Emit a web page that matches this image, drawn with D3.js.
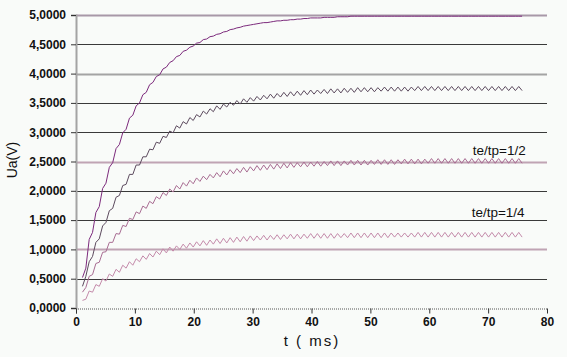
<!DOCTYPE html>
<html><head><meta charset="utf-8">
<script src="https://cdn.jsdelivr.net/npm/d3@7"></script>
<style>html,body{margin:0;padding:0;background:#f9fbf9;}svg{display:block;}</style>
</head><body>
<svg id="c" width="567" height="357"></svg>
<script>
// sample grid (ms): first sample time and step between samples
const tStart = 1.1, tStep = 0.57;
const xTicks = [0,10,20,30,40,50,60,70,80];
const yTicks = [0,0.5,1,1.5,2,2.5,3,3.5,4,4.5,5];
const seriesA = [0.52,0.68,1.17,1.29,1.63,1.73,2.04,2.13,2.40,2.48,
2.72,2.79,2.99,3.05,3.24,3.29,3.45,3.50,3.64,3.68,
3.81,3.85,3.95,3.98,4.08,4.11,4.19,4.22,4.29,4.31,
4.38,4.40,4.45,4.47,4.52,4.53,4.58,4.59,4.63,4.64,
4.67,4.68,4.71,4.72,4.75,4.76,4.78,4.79,4.81,4.82,
4.83,4.84,4.85,4.86,4.87,4.87,4.88,4.89,4.90,4.90,
4.91,4.91,4.92,4.92,4.93,4.93,4.94,4.94,4.95,4.95,
4.95,4.95,4.96,4.96,4.96,4.96,4.97,4.97,4.97,4.97,
4.98,4.98,4.98,4.98,4.98,4.98,4.98,4.98,4.98,4.98,
4.98,4.98,4.98,4.98,4.98,4.98,4.98,4.98,4.98,4.98,
4.98,4.98,4.98,4.98,4.98,4.98,4.98,4.98,4.98,4.98,
4.98,4.98,4.98,4.98,4.98,4.98,4.98,4.98,4.98,4.98,
4.98,4.98,4.98,4.98,4.98,4.98,4.98,4.98,4.98,4.98,
4.98,4.98];
const seriesB = [0.37,0.54,0.79,0.88,1.12,1.18,1.40,1.46,1.66,1.70,
1.89,1.92,2.09,2.11,2.28,2.28,2.44,2.44,2.58,2.58,
2.71,2.70,2.83,2.81,2.93,2.91,3.02,2.99,3.11,3.07,
3.18,3.14,3.25,3.20,3.30,3.26,3.36,3.31,3.40,3.35,
3.45,3.39,3.48,3.43,3.51,3.46,3.54,3.48,3.57,3.51,
3.59,3.53,3.61,3.55,3.63,3.57,3.65,3.58,3.66,3.60,
3.68,3.61,3.69,3.62,3.70,3.63,3.71,3.64,3.72,3.65,
3.72,3.66,3.73,3.66,3.74,3.67,3.74,3.67,3.75,3.68,
3.75,3.68,3.76,3.69,3.76,3.69,3.76,3.69,3.76,3.70,
3.77,3.70,3.77,3.70,3.77,3.70,3.77,3.70,3.77,3.71,
3.78,3.71,3.78,3.71,3.78,3.71,3.78,3.71,3.78,3.71,
3.78,3.71,3.78,3.71,3.78,3.71,3.78,3.71,3.78,3.71,
3.78,3.71,3.78,3.71,3.78,3.71,3.78,3.71,3.78,3.71,
3.78,3.71];
const seriesC = [0.27,0.35,0.54,0.57,0.76,0.78,0.95,0.96,1.12,1.12,
1.27,1.26,1.41,1.39,1.53,1.51,1.64,1.61,1.74,1.70,
1.82,1.78,1.90,1.86,1.97,1.92,2.03,1.98,2.09,2.03,
2.14,2.08,2.18,2.12,2.22,2.16,2.25,2.19,2.28,2.22,
2.31,2.24,2.34,2.27,2.36,2.29,2.38,2.31,2.40,2.32,
2.41,2.34,2.43,2.35,2.44,2.36,2.45,2.37,2.46,2.38,
2.47,2.39,2.48,2.40,2.48,2.41,2.49,2.41,2.49,2.42,
2.50,2.42,2.50,2.43,2.51,2.43,2.51,2.43,2.51,2.44,
2.52,2.44,2.52,2.44,2.52,2.44,2.52,2.45,2.53,2.45,
2.53,2.45,2.53,2.45,2.53,2.46,2.54,2.46,2.54,2.46,
2.54,2.46,2.54,2.47,2.55,2.47,2.55,2.47,2.55,2.47,
2.55,2.47,2.55,2.47,2.55,2.47,2.55,2.47,2.55,2.47,
2.55,2.47,2.55,2.47,2.55,2.47,2.55,2.47,2.55,2.47,
2.55,2.47];
const seriesD = [0.13,0.15,0.29,0.27,0.40,0.37,0.50,0.46,0.58,0.54,
0.66,0.61,0.73,0.68,0.79,0.73,0.84,0.79,0.89,0.83,
0.93,0.87,0.97,0.91,1.01,0.94,1.04,0.97,1.06,1.00,
1.09,1.02,1.11,1.04,1.13,1.06,1.15,1.07,1.16,1.09,
1.18,1.10,1.19,1.11,1.20,1.12,1.21,1.13,1.22,1.14,
1.23,1.15,1.23,1.16,1.24,1.16,1.24,1.17,1.25,1.17,
1.25,1.18,1.26,1.18,1.26,1.18,1.26,1.19,1.27,1.19,
1.27,1.19,1.27,1.19,1.27,1.19,1.27,1.20,1.27,1.20,
1.28,1.20,1.28,1.20,1.28,1.20,1.28,1.20,1.28,1.20,
1.28,1.20,1.28,1.21,1.28,1.21,1.28,1.21,1.28,1.21,
1.29,1.21,1.29,1.21,1.29,1.21,1.29,1.21,1.29,1.21,
1.29,1.21,1.29,1.21,1.29,1.21,1.29,1.21,1.29,1.21,
1.29,1.21,1.29,1.21,1.29,1.21,1.29,1.21,1.29,1.21,
1.29,1.21];
const annotations = [{text:"te/tp=1/2", t:67.4, v:2.61},{text:"te/tp=1/4", t:67.2, v:1.55}];

const svg = d3.select("#c");
const x = d3.scaleLinear().domain([0,80]).range([76,547]);
const y = d3.scaleLinear().domain([0,5]).range([308,15]);
const font = "Liberation Sans, Arial, sans-serif";

// gridlines
const special = {5:"#a898a8", 4:"#a4a4a4", 2.5:"#c0a4b4", 1:"#c0a4b4"};
svg.append("g").selectAll("line").data(yTicks.filter(d=>d>0)).join("line")
  .attr("x1",x(0)).attr("x2",x(80))
  .attr("y1",d=>Math.round(y(d))+0.5).attr("y2",d=>Math.round(y(d))+0.5)
  .attr("stroke",d=>special[d]||"#3a3a3a")
  .attr("stroke-width",d=>special[d]?2:1);

// y axis
const yAxis = d3.axisLeft(y).tickValues(yTicks).tickSize(5).tickPadding(5)
  .tickFormat(d=>d3.format(".4f")(d).replace(".",","));
const gy = svg.append("g").attr("transform",`translate(${x(0)},0)`).call(yAxis);
gy.select(".domain").attr("stroke","#a4a4a4").attr("stroke-width",2);
gy.selectAll(".tick line").attr("stroke","#333");
gy.selectAll("text").attr("font-family",font).attr("font-size",12).attr("font-weight","bold").attr("fill","#111");

// x axis
const xAxis = d3.axisBottom(x).tickValues(xTicks).tickSize(5).tickPadding(4);
const gx = svg.append("g").attr("transform",`translate(0,${Math.round(y(0))+0.5})`).call(xAxis);
gx.select(".domain").attr("stroke","#555").attr("stroke-dasharray","1,1");
gx.selectAll(".tick line").attr("stroke","#333");
gx.selectAll("text").attr("font-family",font).attr("font-size",12).attr("font-weight","bold").attr("fill","#111");

// series
const line = d3.line().x((d,i)=>x(tStart+i*tStep)).y(d=>y(d));
const series = [
  {data:seriesD, color:"#c48aaa"},
  {data:seriesC, color:"#a86c92"},
  {data:seriesB, color:"#5c4a5e"},
  {data:seriesA, color:"#7c2a7c"}
];
svg.append("g").selectAll("path").data(series).join("path")
  .attr("d",d=>line(d.data)).attr("fill","none")
  .attr("stroke",d=>d.color).attr("stroke-width",1);

// annotations
svg.append("g").selectAll("text").data(annotations).join("text")
  .attr("x",d=>x(d.t)).attr("y",d=>y(d.v))
  .attr("font-family",font).attr("font-size",13.5).attr("fill","#111")
  .text(d=>d.text);

// axis titles
svg.append("text").attr("x",312).attr("y",346).attr("text-anchor","middle")
  .attr("font-family",font).attr("font-size",15).attr("letter-spacing",2).attr("fill","#111").text("t ( ms)");
svg.append("text").attr("transform","translate(17,160) rotate(-90)").attr("text-anchor","middle")
  .attr("font-family",font).attr("font-size",14).attr("fill","#111").text("Ua(V)");
</script>
</body></html>
